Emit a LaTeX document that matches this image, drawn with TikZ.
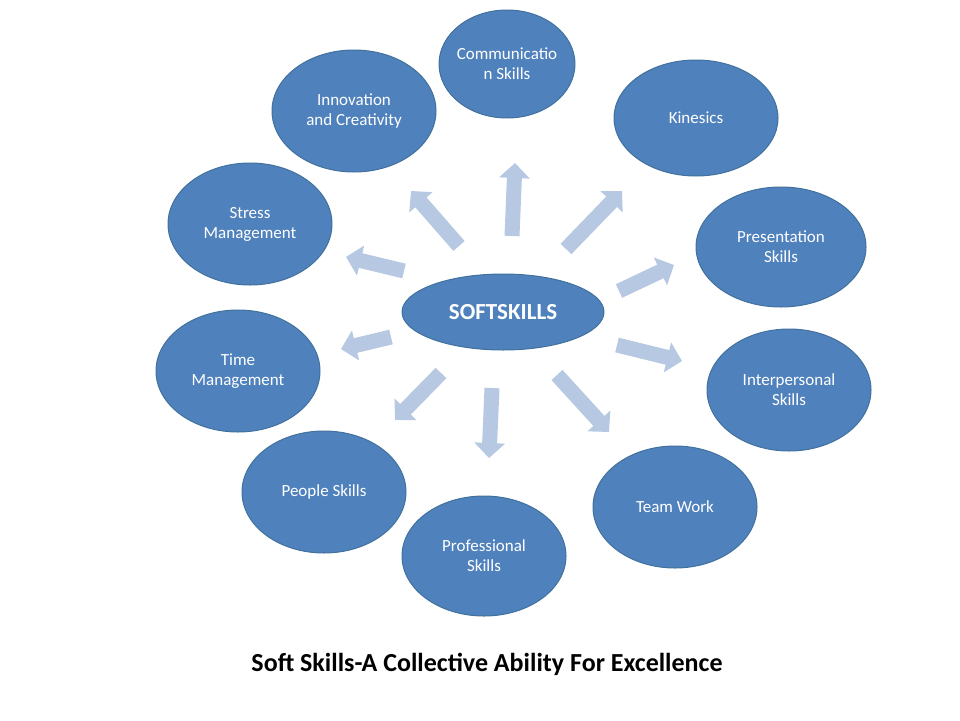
\documentclass[tikz,border=0pt]{standalone}
\usepackage{fontspec}
\setmainfont{Carlito}
\usetikzlibrary{arrows.meta}
\definecolor{bub}{HTML}{4F81BD}
\definecolor{bubline}{HTML}{41719C}
\definecolor{arr}{HTML}{B7C9E2}
\begin{document}
\begin{tikzpicture}[x=1pt,y=-1pt,
  bubble/.style={ellipse,fill=bub,draw=bubline,line width=1pt,text=white,font=\fontsize{17}{20}\selectfont,align=center,inner sep=0pt},
  flow/.style={draw=arr,line width=15pt,-{Triangle[width=30pt,length=15pt]}}]
\useasboundingbox (0,0) rectangle (960,720);
\def\ell#1#2#3#4#5#6{\fill[bub,draw=bubline,line width=1pt] (#1,#2) ellipse[x radius=#3,y radius=#4];
  \node[text=white,font=\fontsize{17}{20}\selectfont,align=center] (#5) at (#1,#2) {#6};}
\ell{507}{64}{68}{54}{comm}{Communicatio\\n Skills}
\ell{696}{118}{82}{58}{kin}{Kinesics}
\ell{354}{111}{82}{61}{inno}{Innovation\\and Creativity}
\ell{250}{224}{82}{61}{stress}{Stress\\Management}
\ell{781}{247}{85}{60}{pres}{Presentation\\Skills}
\ell{238}{371}{82}{61}{time}{Time\\Management}
\ell{789}{390}{82}{61}{inter}{Interpersonal\\Skills}
\ell{324}{492}{82}{61}{people}{People Skills}
\ell{675}{507}{82}{61}{team}{Team Work}
\ell{484}{556}{82}{60}{prof}{Professional\\Skills}
\fill[bub,draw=bubline,line width=1pt] (503,312) ellipse[x radius=101,y radius=38];
\node[text=white,font=\bfseries\fontsize{23}{26}\selectfont] (soft) at (503,312) {SOFTSKILLS};
\foreach \n/\a/\b/\c/\d in {u/512/236/515/163, ul/459/246/411/191, ur/566/249/622/191,
  l/404/271/346/257, r/619/291/674/265, ll/391/337/341/349, rl/617/345/682/361,
  dl/441/373/395/420, d/492/388/489/458, dr/557/375/609/432}{
  \coordinate (t\n) at (\a,\b); \coordinate (h\n) at (\c,\d);
  \draw[flow] (t\n) -- (h\n);}
\node[font=\bfseries\fontsize{26}{30}\selectfont] (title) at (487,664) {Soft Skills-A Collective Ability For Excellence};
\end{tikzpicture}
\end{document}
